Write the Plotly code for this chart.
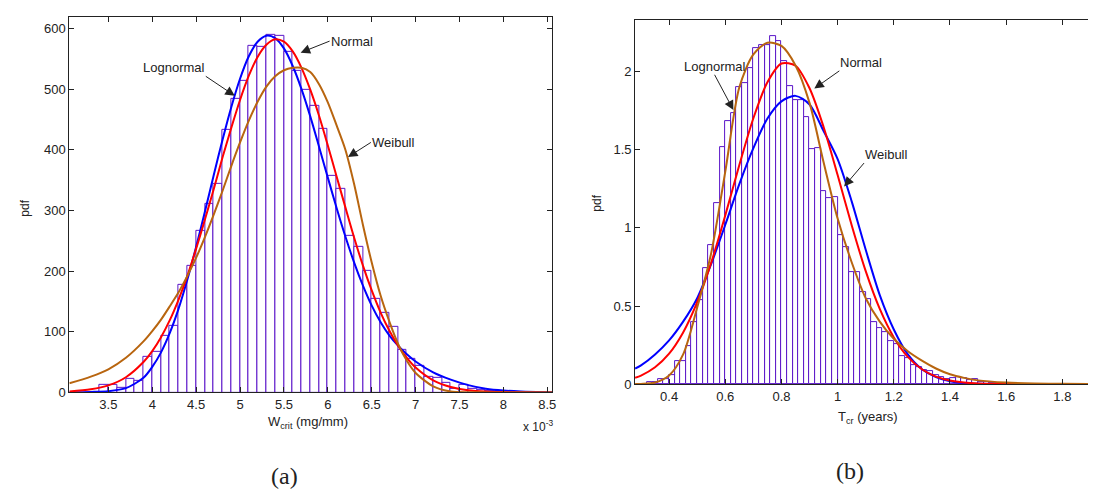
import plotly.graph_objects as go

# ---------------- Panel (a): W_crit, values in units of 1e-3 mg/mm ----------------
w_bin_centers = [3.45, 3.55, 3.65, 3.75, 3.85, 3.95, 4.05, 4.15, 4.25, 4.35, 4.45, 4.55,
                 4.65, 4.75, 4.85, 4.95, 5.05, 5.15, 5.25, 5.35, 5.45, 5.55, 5.65, 5.75,
                 5.85, 5.95, 6.05, 6.15, 6.25, 6.35, 6.45, 6.55, 6.65, 6.75, 6.85, 6.95,
                 7.05, 7.15, 7.25, 7.35, 7.45, 7.55, 7.65, 7.75, 7.85, 7.95, 8.05]
w_bin_pdf = [12, 12, 7, 23, 19, 59, 66, 93, 109, 177, 208, 267,
             310, 343, 432, 484, 513, 571, 569, 589, 587, 562, 530, 498,
             473, 434, 357, 336, 258, 240, 200, 155, 131, 108, 70, 55,
             44, 26, 24, 16, 6, 12, 6, 4, 2, 1, 1]

w_x = [3.056, 3.3, 3.5, 3.7, 3.9, 4.0, 4.1, 4.2, 4.3, 4.4, 4.5, 4.6, 4.7, 4.8, 4.9,
       5.0, 5.1, 5.2, 5.3, 5.4, 5.5, 5.6, 5.7, 5.8, 5.9, 6.0, 6.1, 6.2, 6.3, 6.4,
       6.5, 6.6, 6.7, 6.8, 6.9, 7.0, 7.2, 7.4, 7.6, 7.8, 8.0, 8.2, 8.557]
w_lognormal = [0.3, 0.8, 2, 7, 24, 42, 66, 98, 138, 186, 240, 298, 358, 416, 470,
               517, 554, 578, 588, 584, 567, 538, 500, 455, 405, 354, 304, 257, 214, 176,
               143, 116, 94, 77, 63, 51, 33, 21, 12, 6, 3, 1.5, 0.3]
w_normal = [1.5, 5, 11.5, 25, 50, 68, 91, 119, 153, 192, 237, 285, 335, 387, 436,
            482, 522, 553, 573, 582, 578, 562, 535, 499, 456, 407, 356, 305, 255, 209,
            168, 132, 102, 77, 57, 41, 20, 9, 3.7, 1.4, 0.5, 0.2, 0]
w_weibull = [15, 26, 38, 57, 84, 101, 120, 142, 165, 192, 222, 256, 293, 332, 373,
             412, 448, 479, 504, 521, 531, 535, 535, 528, 508, 478, 440, 400, 343, 276,
             214, 160, 117, 80, 52, 32, 10, 1.5, 0.2, 0, 0, 0, 0]
w_ticks = [3.5, 4, 4.5, 5, 5.5, 6, 6.5, 7, 7.5, 8, 8.5]
w_tick_text = ['3.5', '4', '4.5', '5', '5.5', '6', '6.5', '7', '7.5', '8', '8.5']
a_pdf_ticks = [0, 100, 200, 300, 400, 500, 600]

# ---------------- Panel (b): T_cr (years) ----------------
t_bin_centers = [0.33, 0.35, 0.37, 0.39, 0.41, 0.43, 0.45, 0.47, 0.49, 0.51, 0.53, 0.55,
                 0.57, 0.59, 0.61, 0.63, 0.65, 0.67, 0.69, 0.71, 0.73, 0.75, 0.77, 0.79,
                 0.81, 0.83, 0.85, 0.87, 0.89, 0.91, 0.93, 0.95, 0.97, 0.99, 1.01, 1.03,
                 1.05, 1.07, 1.09, 1.11, 1.13, 1.15, 1.17, 1.19, 1.21, 1.23, 1.25, 1.27,
                 1.29, 1.31, 1.33, 1.35, 1.37, 1.39, 1.41, 1.43, 1.45, 1.47, 1.49, 1.51,
                 1.53, 1.55, 1.57, 1.59, 1.61, 1.63, 1.65, 1.67]
t_bin_pdf = [0.01, 0.01, 0.035, 0.035, 0.06, 0.145, 0.145, 0.245, 0.40, 0.54, 0.74, 0.89,
             1.16, 1.52, 1.685, 1.733, 1.90, 1.927, 2.02, 2.15, 2.17, 2.17, 2.225, 2.195,
             2.07, 1.91, 1.815, 1.82, 1.71, 1.505, 1.51, 1.237, 1.19, 1.195, 0.954, 0.88,
             0.72, 0.72, 0.586, 0.544, 0.40, 0.36, 0.33, 0.277, 0.256, 0.18, 0.166, 0.12,
             0.11, 0.088, 0.082, 0.057, 0.046, 0.03, 0.04, 0.046, 0.036, 0.025, 0.03, 0.015,
             0.01, 0.008, 0.006, 0.004, 0.003, 0.002, 0.002, 0.001]

t_x = [0.279, 0.30, 0.35, 0.40, 0.45, 0.50, 0.55, 0.60, 0.65, 0.70, 0.75, 0.80, 0.85,
       0.90, 0.95, 1.00, 1.05, 1.10, 1.15, 1.20, 1.25, 1.30, 1.35, 1.40, 1.45, 1.50,
       1.60, 1.70, 1.80, 1.934]
t_weibull = [0.10, 0.12, 0.19, 0.28, 0.40, 0.55, 0.77, 1.02, 1.28, 1.51, 1.70, 1.81, 1.845,
             1.79, 1.62, 1.44, 1.17, 0.86, 0.57, 0.35, 0.19, 0.095, 0.045, 0.018, 0.006, 0.002,
             0.0, 0.0, 0.0, 0.0]
t_normal = [0.041, 0.055, 0.108, 0.195, 0.331, 0.525, 0.778, 1.080, 1.402, 1.702, 1.932, 2.052, 2.038,
            1.894, 1.646, 1.338, 1.017, 0.723, 0.481, 0.299, 0.174, 0.095, 0.048, 0.023, 0.010, 0.004,
            0.0005, 0.0, 0.0, 0.0]
t_lognormal = [0.0, 0.001, 0.01, 0.055, 0.19, 0.49, 0.84, 1.36, 1.90, 2.11, 2.185, 2.165, 2.04,
               1.80, 1.42, 1.06, 0.78, 0.55, 0.40, 0.29, 0.21, 0.15, 0.10, 0.063, 0.04, 0.024,
               0.01, 0.004, 0.002, 0.001]
t_ticks = [0.4, 0.6, 0.8, 1.0, 1.2, 1.4, 1.6, 1.8]
t_tick_text = ['0.4', '0.6', '0.8', '1', '1.2', '1.4', '1.6', '1.8']
b_pdf_ticks = [0, 0.5, 1, 1.5, 2]
b_pdf_tick_text = ['0', '0.5', '1', '1.5', '2']

# ---------------- styling ----------------
W, H = 1096, 495
def px(x):
    return x / W
def py(y):
    return 1 - y / H

BAR_EDGE = '#5a14c8'
BLUE, RED, BROWN = '#0000ff', '#ff0000', '#b8650f'
SANS = 'Liberation Sans, Arial, sans-serif'
SERIF = 'Liberation Serif, Times New Roman, serif'

fig = go.Figure()

def add_panel(xa, ya, bx, by, bw, curves):
    fig.add_trace(go.Bar(x=bx, y=by, width=bw, xaxis=xa, yaxis=ya,
                         marker=dict(color='white', line=dict(color=BAR_EDGE, width=1)),
                         showlegend=False, hoverinfo='skip'))
    for cx, cy, col in curves:
        fig.add_trace(go.Scatter(x=cx, y=cy, mode='lines', xaxis=xa, yaxis=ya,
                                 line=dict(color=col, width=2, shape='spline', smoothing=0.8),
                                 showlegend=False, hoverinfo='skip'))

add_panel('x', 'y', w_bin_centers, w_bin_pdf, 0.1,
          [(w_x, w_lognormal, BLUE), (w_x, w_normal, RED), (w_x, w_weibull, BROWN)])
add_panel('x2', 'y2', t_bin_centers, t_bin_pdf, 0.02,
          [(t_x, t_weibull, BLUE), (t_x, t_normal, RED), (t_x, t_lognormal, BROWN)])

axis_common = dict(ticks='inside', ticklen=5, tickwidth=1, tickcolor='#222',
                   showline=True, linecolor='#222', linewidth=1,
                   showgrid=False, zeroline=False,
                   tickfont=dict(family=SANS, size=13, color='#222'))

annotations = []
def callout(text, tx, ty, hx, hy, xr, yr, xanchor, yanchor):
    # text box is anchored at the arrow tail (tx, ty); arrow points to (hx, hy)
    annotations.append(dict(text=text, x=hx, y=hy, ax=tx, ay=ty, xref=xr, yref=yr,
                            axref=xr, ayref=yr, showarrow=True, arrowhead=2,
                            arrowsize=1.9, arrowwidth=1, arrowcolor='#222',
                            xanchor=xanchor, yanchor=yanchor, borderpad=0,
                            font=dict(family=SANS, size=13, color='#222')))

# panel (a) labels
callout('Normal', 6.02, 579, 5.69, 560, 'x', 'y', 'left', 'middle')
callout('Lognormal', 4.61, 521, 4.94, 489, 'x', 'y', 'right', 'bottom')
callout('Weibull', 6.49, 412, 6.23, 388, 'x', 'y', 'left', 'middle')
# panel (b) labels
callout('Lognormal', 0.562, 1.98, 0.629, 1.754, 'x2', 'y2', 'center', 'bottom')
callout('Normal', 1.006, 2.005, 0.917, 1.892, 'x2', 'y2', 'left', 'bottom')
callout('Weibull', 1.094, 1.415, 1.023, 1.265, 'x2', 'y2', 'left', 'bottom')

# axis titles and captions (paper coordinates)
def ptext(text, x, y, size=13, family=SANS, angle=0, xanchor='center'):
    annotations.append(dict(text=text, x=px(x), y=py(y), xref='paper', yref='paper',
                            showarrow=False, textangle=angle, xanchor=xanchor, yanchor='middle',
                            font=dict(family=family, size=size, color='#222')))

ptext('pdf', 17, 203, size=12, angle=-90)
ptext('pdf', 591, 198, size=12, angle=-90)
ptext('W<sub>crit</sub> (mg/mm)', 301, 421)
ptext('T<sub>cr</sub> (years)', 863, 416)
ptext('x 10<sup>-3</sup>', 549, 425, size=12, xanchor='right')
ptext('(a)', 278, 476, size=24, family=SERIF)
ptext('(b)', 845, 471, size=24, family=SERIF)

fig.update_layout(
    width=W, height=H, autosize=False,
    margin=dict(l=0, r=0, t=0, b=0),
    paper_bgcolor='white', plot_bgcolor='white',
    barmode='overlay', bargap=0, showlegend=False,
    xaxis=dict(domain=[px(61.6), px(546.3)], range=[3.056, 8.557], anchor='y',
               tickvals=w_ticks, ticktext=w_tick_text, mirror='ticks', **axis_common),
    yaxis=dict(domain=[py(390.7), py(9)], range=[0, 619], anchor='x',
               tickvals=a_pdf_ticks, mirror='ticks', **axis_common),
    xaxis2=dict(domain=[px(629.4), 1.0], range=[0.279, 1.934], anchor='y2',
                tickvals=t_ticks, ticktext=t_tick_text, mirror='ticks', **axis_common),
    yaxis2=dict(domain=[py(382.3), py(12.3)], range=[0, 2.33], anchor='x2',
                tickvals=b_pdf_ticks, ticktext=b_pdf_tick_text, mirror=False, **axis_common),
    annotations=annotations,
)

fig.write_html('out.html')
